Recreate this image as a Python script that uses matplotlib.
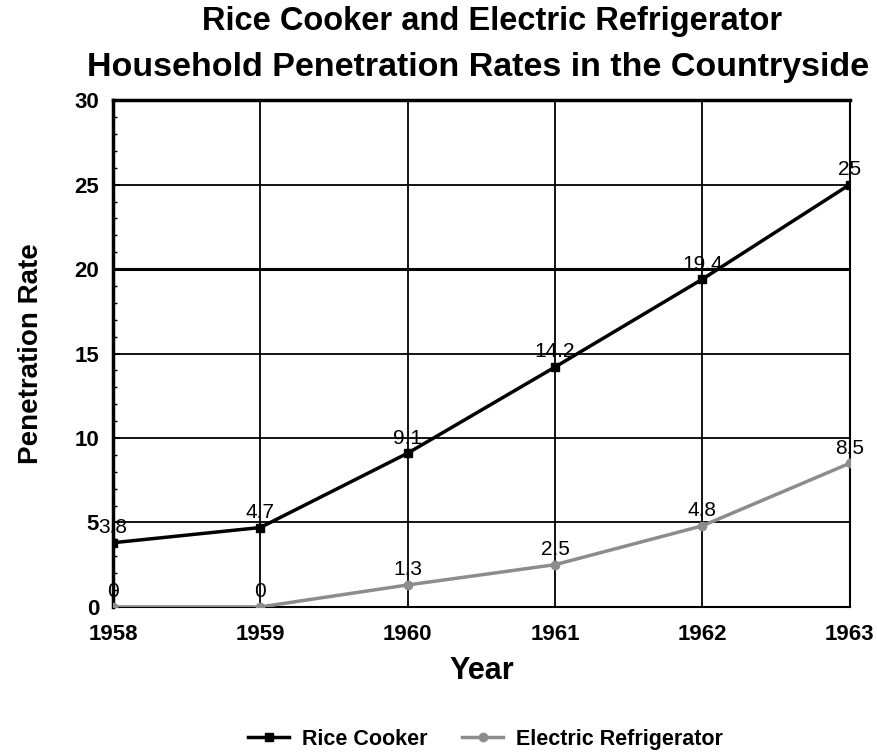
import matplotlib.pyplot as plt
from matplotlib.ticker import MultipleLocator

plt.rcParams['font.family'] = ['Liberation Sans', 'DejaVu Sans']

years = [1958, 1959, 1960, 1961, 1962, 1963]
rice_cooker = [3.8, 4.7, 9.1, 14.2, 19.4, 25]
refrigerator = [0, 0, 1.3, 2.5, 4.8, 8.5]
year_labels = [str(y) for y in years]

fig = plt.figure(figsize=(8.78, 7.53), dpi=100)
ax = fig.add_axes([0.1287, 0.194, 0.839, 0.673])

ax.plot(years, rice_cooker, color='black', lw=2.5, marker='s', ms=6,
        label='Rice Cooker', zorder=4)
ax.plot(years, refrigerator, color='#8c8c8c', lw=2.5, marker='o', ms=6,
        label='Electric Refrigerator', zorder=3)

for x, v in zip(years, rice_cooker):
    ax.annotate(f'{v:g}', (x, v), xytext=(0, 4), textcoords='offset points',
                ha='center', va='bottom', fontsize=15, zorder=5)
for x, v in zip(years, refrigerator):
    ax.annotate(f'{v:g}', (x, v), xytext=(0, 4), textcoords='offset points',
                ha='center', va='bottom', fontsize=15, zorder=5)

ax.set_xlim(1958, 1963)
ax.set_ylim(0, 30)
ax.set_xticks(years)
ax.set_xticklabels(year_labels)
ax.yaxis.set_major_locator(MultipleLocator(5))
ax.yaxis.set_minor_locator(MultipleLocator(1))
ax.grid(True, which='major', color='black', lw=1.3)
ax.set_axisbelow(True)
ax.axhline(20, color='black', lw=2.2, zorder=1)

for s in ax.spines.values():
    s.set_color('black')
    s.set_linewidth(1.5)
ax.spines['top'].set_linewidth(2.5)
ax.spines['left'].set_linewidth(2.5)

ax.tick_params(axis='y', which='major', labelsize=16, length=5, width=1.5,
               direction='in', pad=10)
ax.tick_params(axis='x', which='major', labelsize=16, length=0, pad=12)
ax.tick_params(axis='y', which='minor', length=3, width=1, direction='in')
for lbl in ax.get_xticklabels() + ax.get_yticklabels():
    lbl.set_fontweight('bold')

ax.set_xlabel('Year', fontsize=22, fontweight='bold', labelpad=8)
ax.set_ylabel('Penetration Rate', fontsize=20, fontweight='bold', labelpad=22)

fig.text(0.56, 0.971, 'Rice Cooker and Electric Refrigerator',
         fontsize=23.5, fontweight='bold', ha='center', va='center')
fig.text(0.545, 0.910, 'Household Penetration Rates in the Countryside',
         fontsize=24.5, fontweight='bold', ha='center', va='center')

fig.legend(loc='center', bbox_to_anchor=(0.553, 0.018), ncol=2, frameon=False,
           prop={'size': 15.5, 'weight': 'bold'}, handlelength=1.9,
           handletextpad=0.6, columnspacing=1.6)

fig.savefig('out.png', dpi=100)
